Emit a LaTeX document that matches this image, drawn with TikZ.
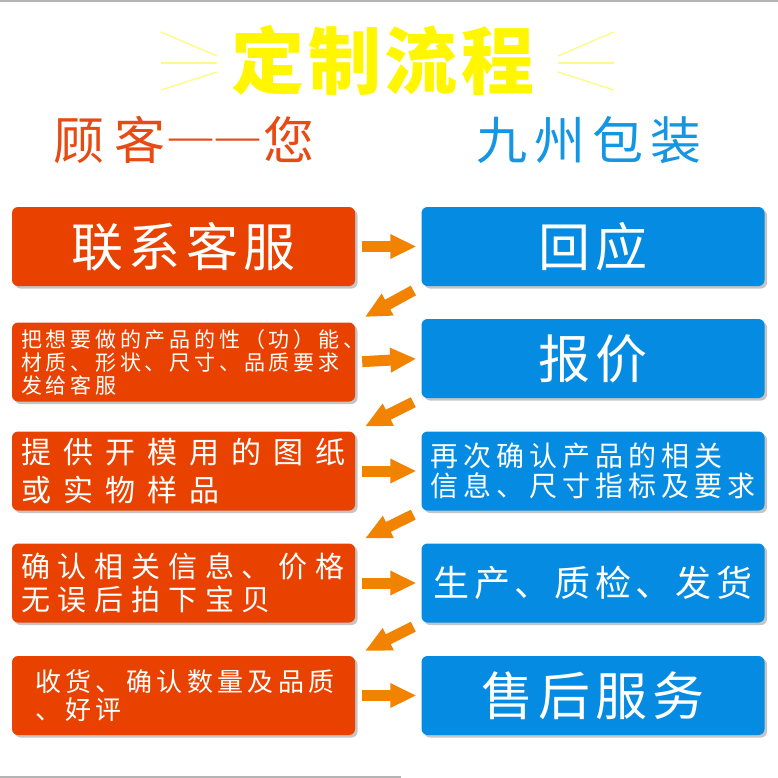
\documentclass[tikz,border=0pt]{standalone}
\usepackage{fontspec}
\usepackage{xcolor}
\usepackage{tikz}
\usetikzlibrary{arrows.meta,shadows}
\setmainfont{Noto Sans CJK SC}
\definecolor{title}{HTML}{FFF600}
\definecolor{rayyellow}{HTML}{FFF98A}
\definecolor{client}{HTML}{E84A14}
\definecolor{maker}{HTML}{1496E2}
\definecolor{redbox}{HTML}{E94200}
\definecolor{bluebox}{HTML}{058CE2}
\definecolor{flow}{HTML}{F28300}
\definecolor{edge}{HTML}{B4B4B4}
\newcommand{\sized}[3]{\fontsize{#1pt}{#2pt}\selectfont\addfontfeature{LetterSpace=#3}}
\tikzset{
  stepbox/.style={rounded corners=6pt, minimum width=343pt, minimum height=79pt,
    inner xsep=9pt, text width=325pt, text=white,
    drop shadow={shadow xshift=2.5pt, shadow yshift=-2.5pt, opacity=0.45}},
  ask/.style={stepbox, fill=redbox},
  reply/.style={stepbox, fill=bluebox},
  flowarrow/.style={-{Triangle[length=26pt,width=23pt]}, line width=11pt, draw=flow},
  glow/.style={line width=1.4pt, draw=rayyellow},
  head/.style={font=\sized{51}{60}{14}}
}
\begin{document}
\begin{tikzpicture}[x=1pt, y=-1pt]
  \fill[white] (0,0) rectangle (778,778);
  \useasboundingbox (0,0) rectangle (778,778);
  \draw[edge, line width=2pt] (0,1)--(778,1);
  \draw[edge, line width=2pt] (0,777)--(401,777);

  % title
  \node[font={\bfseries\sized{73}{80}{5}}, text=title] (title) at (383,60) {定制流程};
  \foreach \a/\b in {32/56, 63/63, 90/72}{
    \draw[glow] (161,\a)--(217,\b);
    \draw[glow] (614,\a)--(558,\b);
  }
  \node[head, font=\sized{51}{60}{18}, text=client] (you) at (184,140) {顾客{\addfontfeature{CharacterWidth=Full}—\hspace{-4pt}—}您};
  \node[head, text=maker] (us) at (589,140) {九州包装};

  % customer steps
  \node[ask, align=center, font=\sized{52}{60}{10}] (c1) at (183.5,246.5) {联系客服};
  \node[ask, align=left, font=\sized{21}{23}{18}] (c2) at (183.5,362) {把想要做的产品的性（功）能、\\材质、形状、尺寸、品质要求\\发给客服};
  \node[ask, align=left, font=\sized{30}{37.5}{40}] (c3) at (183.5,471) {提供开模用的图纸\\或实物样品};
  \node[ask, align=left, font=\sized{29}{33.5}{27}] (c4) at (183.5,583) {确认相关信息、价格\\无误后拍下宝贝};
  \node[ask, align=left, inner xsep=23pt, text width=297pt, font=\sized{26}{28}{17}] (c5) at (183.5,695.5) {收货、确认数量及品质\\、好评};

  % maker steps
  \node[reply, align=center, font=\sized{52}{60}{10}] (m1) at (593,246.5) {回应};
  \node[reply, align=center, font=\sized{52}{60}{10}] (m2) at (593,358.5) {报价};
  \node[reply, align=left, font=\sized{28}{30}{18}] (m3) at (593,471) {再次确认产品的相关\\信息、尺寸指标及要求};
  \node[reply, align=center, font=\sized{36}{40}{12}] (m4) at (593,583) {生产、质检、发货};
  \node[reply, align=center, font=\sized{52}{60}{10}] (m5) at (593,695.5) {售后服务};

  % arrows
  \foreach \i in {1,...,5}
    \draw[flowarrow, shorten <=7pt, shorten >=5pt] (c\i.east) -- (m\i.west);
  \foreach \i [evaluate=\i as \j using int(\i+1)] in {1,...,4}
    \draw[flowarrow, shorten <=9pt, shorten >=11pt] (m\i.south west) -- (c\j.north east);
\end{tikzpicture}
\end{document}
